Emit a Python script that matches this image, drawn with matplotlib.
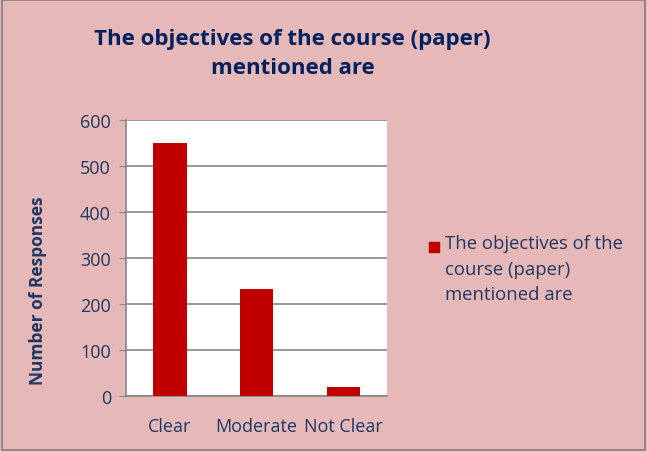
import matplotlib.pyplot as plt
from matplotlib.patches import Rectangle

categories = ['Clear', 'Moderate', 'Not Clear']
responses = [550, 232, 20]
series_name = 'The objectives of the\ncourse (paper)\nmentioned are'
title = 'The objectives of the course (paper)\nmentioned are'

bg = '#E6B8B7'
bar_color = '#C00000'
navy = '#1F3864'
grid_gray = '#868686'

plt.rcParams['font.family'] = ['Open Sans', 'DejaVu Sans']

fig = plt.figure(figsize=(6.47, 4.52), dpi=100)
fig.patch.set_facecolor(bg)
ax = fig.add_axes([0.195, 0.122, 0.403, 0.610])
ax.set_facecolor('white')

ax.bar(range(len(categories)), responses, width=0.39, color=bar_color, zorder=3)
ax.set_xlim(-0.5, 2.5)
ax.set_ylim(0, 600)
ax.set_yticks(range(0, 601, 100))
ax.set_xticks(range(len(categories)))
ax.set_xticklabels(categories)
ax.yaxis.grid(True, color=grid_gray, linewidth=1.2, zorder=0)
for s in ['top', 'right']:
    ax.spines[s].set_visible(False)
ax.spines['left'].set_color(grid_gray)
ax.spines['bottom'].set_color(grid_gray)
ax.spines['left'].set_linewidth(1.2)
ax.spines['bottom'].set_linewidth(1.2)
ax.tick_params(axis='y', length=5, color=grid_gray, labelcolor=navy, labelsize=13, pad=6)
ax.tick_params(axis='x', length=0, labelcolor=navy, labelsize=13, pad=15)

ax.set_ylabel('Number of Responses', color=navy, fontsize=12.5, fontweight='bold')
ax.yaxis.set_label_coords(-0.305, 0.385)

fig.text(0.452, 0.881, title, ha='center', va='center', color='#002060',
         fontsize=16, fontweight='bold', linespacing=1.5)

# legend
fig.patches.append(Rectangle((429 / 647, 1 - 253 / 452), 10 / 647, 10 / 452,
                             transform=fig.transFigure, color=bar_color))
fig.text(445 / 647, 1 - 235 / 452, series_name, ha='left', va='top',
         color=navy, fontsize=13.3, linespacing=1.55)

# outer border
fig.patches.append(Rectangle((0.003, 0.003), 0.994, 0.994, transform=fig.transFigure,
                             fill=False, edgecolor='#808080', linewidth=1.2))

fig.savefig('out.png', dpi=100, facecolor=bg)
